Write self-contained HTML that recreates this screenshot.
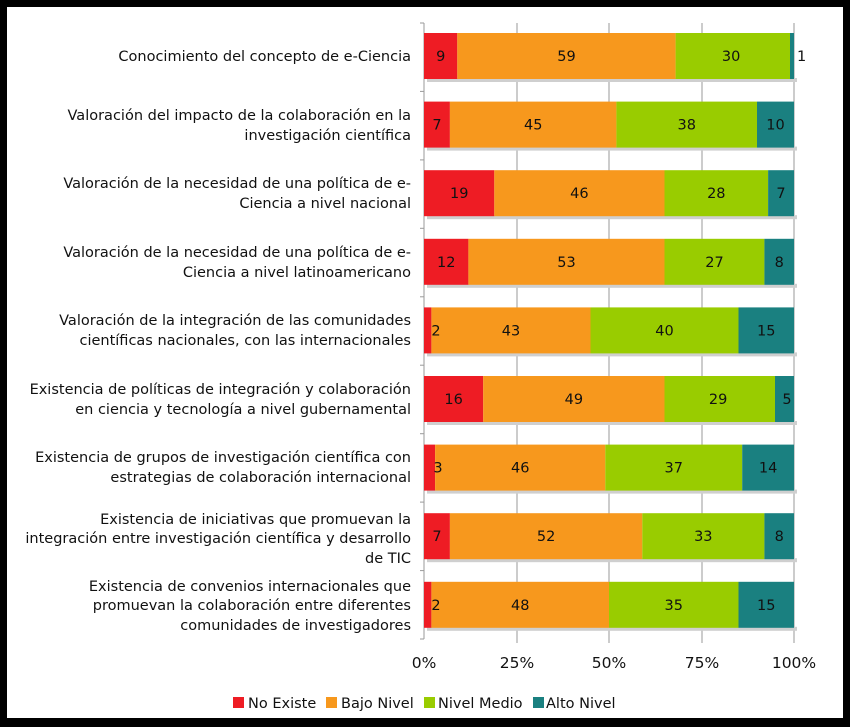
<!DOCTYPE html>
<html><head><meta charset="utf-8"><style>
html,body{margin:0;padding:0;background:#000;}
svg{display:block;font-family:"DejaVu Sans","Liberation Sans",sans-serif;}
</style></head><body>
<svg width="850" height="727" viewBox="0 0 850 727" xmlns="http://www.w3.org/2000/svg">
<rect x="0" y="0" width="850" height="727" fill="#000"/>
<rect x="7" y="7" width="836" height="711" fill="#fff"/>
<g stroke="#9a9a9a" stroke-width="1">
<line x1="517" y1="23" x2="517" y2="639"/><line x1="609" y1="23" x2="609" y2="639"/>
<line x1="702" y1="23" x2="702" y2="639"/><line x1="794" y1="23" x2="794" y2="639"/>
<line x1="424" y1="23" x2="424" y2="639"/>
<line x1="420" y1="23" x2="424" y2="23"/><line x1="420" y1="91.4" x2="424" y2="91.4"/>
<line x1="420" y1="159.9" x2="424" y2="159.9"/><line x1="420" y1="228.3" x2="424" y2="228.3"/>
<line x1="420" y1="296.8" x2="424" y2="296.8"/><line x1="420" y1="365.2" x2="424" y2="365.2"/>
<line x1="420" y1="433.7" x2="424" y2="433.7"/><line x1="420" y1="502.1" x2="424" y2="502.1"/>
<line x1="420" y1="570.6" x2="424" y2="570.6"/><line x1="420" y1="639" x2="424" y2="639"/>
<line x1="517" y1="639" x2="517" y2="643"/><line x1="609" y1="639" x2="609" y2="643"/><line x1="702" y1="639" x2="702" y2="643"/><line x1="794" y1="639" x2="794" y2="643"/>
</g>
<g fill="#cfcfcf">
<rect x="427" y="78" width="370" height="4"/><rect x="427" y="146.6" width="370" height="4"/>
<rect x="427" y="215.2" width="370" height="4"/><rect x="427" y="283.8" width="370" height="4"/>
<rect x="427" y="352.4" width="370" height="4"/><rect x="427" y="421" width="370" height="4"/>
<rect x="427" y="489.6" width="370" height="4"/><rect x="427" y="558.2" width="370" height="4"/>
<rect x="427" y="626.8" width="370" height="4"/>
</g>
<g>
<rect x="424" y="33" width="33.3" height="46" fill="#ee1c24"/><rect x="457.3" y="33" width="218.3" height="46" fill="#f7981d"/><rect x="675.6" y="33" width="114.4" height="46" fill="#99cc00"/><rect x="790" y="33" width="4" height="46" fill="#1a8080"/>
<rect x="424" y="101.6" width="25.9" height="46" fill="#ee1c24"/><rect x="449.9" y="101.6" width="166.5" height="46" fill="#f7981d"/><rect x="616.4" y="101.6" width="140.6" height="46" fill="#99cc00"/><rect x="757" y="101.6" width="37" height="46" fill="#1a8080"/>
<rect x="424" y="170.2" width="70.3" height="46" fill="#ee1c24"/><rect x="494.3" y="170.2" width="170.2" height="46" fill="#f7981d"/><rect x="664.5" y="170.2" width="103.6" height="46" fill="#99cc00"/><rect x="768.1" y="170.2" width="25.9" height="46" fill="#1a8080"/>
<rect x="424" y="238.8" width="44.4" height="46" fill="#ee1c24"/><rect x="468.4" y="238.8" width="196.1" height="46" fill="#f7981d"/><rect x="664.5" y="238.8" width="99.9" height="46" fill="#99cc00"/><rect x="764.4" y="238.8" width="29.6" height="46" fill="#1a8080"/>
<rect x="424" y="307.4" width="7.4" height="46" fill="#ee1c24"/><rect x="431.4" y="307.4" width="159.1" height="46" fill="#f7981d"/><rect x="590.5" y="307.4" width="148" height="46" fill="#99cc00"/><rect x="738.5" y="307.4" width="55.5" height="46" fill="#1a8080"/>
<rect x="424" y="376" width="59.2" height="46" fill="#ee1c24"/><rect x="483.2" y="376" width="181.3" height="46" fill="#f7981d"/><rect x="664.5" y="376" width="110.5" height="46" fill="#99cc00"/><rect x="775" y="376" width="19" height="46" fill="#1a8080"/>
<rect x="424" y="444.6" width="11.1" height="46" fill="#ee1c24"/><rect x="435.1" y="444.6" width="170.2" height="46" fill="#f7981d"/><rect x="605.3" y="444.6" width="136.9" height="46" fill="#99cc00"/><rect x="742.2" y="444.6" width="51.8" height="46" fill="#1a8080"/>
<rect x="424" y="513.2" width="25.9" height="46" fill="#ee1c24"/><rect x="449.9" y="513.2" width="192.4" height="46" fill="#f7981d"/><rect x="642.3" y="513.2" width="122.1" height="46" fill="#99cc00"/><rect x="764.4" y="513.2" width="29.6" height="46" fill="#1a8080"/>
<rect x="424" y="581.8" width="7.4" height="46" fill="#ee1c24"/><rect x="431.4" y="581.8" width="177.6" height="46" fill="#f7981d"/><rect x="609" y="581.8" width="129.5" height="46" fill="#99cc00"/><rect x="738.5" y="581.8" width="55.5" height="46" fill="#1a8080"/>
</g>
<g font-size="14.5" fill="#111" text-anchor="middle">
<text x="440.7" y="61">9</text><text x="566.5" y="61">59</text><text x="731.1" y="61">30</text><text x="797" y="61" text-anchor="start">1</text>
<text x="437" y="129.6">7</text><text x="533.2" y="129.6">45</text><text x="686.7" y="129.6">38</text><text x="775.5" y="129.6">10</text>
<text x="459.2" y="198.2">19</text><text x="579.4" y="198.2">46</text><text x="716.3" y="198.2">28</text><text x="781" y="198.2">7</text>
<text x="446.2" y="266.8">12</text><text x="566.5" y="266.8">53</text><text x="714.5" y="266.8">27</text><text x="779.2" y="266.8">8</text>
<text x="436" y="335.4">2</text><text x="511" y="335.4">43</text><text x="664.5" y="335.4">40</text><text x="766.2" y="335.4">15</text>
<text x="453.6" y="404">16</text><text x="573.9" y="404">49</text><text x="718.1" y="404">29</text><text x="787" y="404">5</text>
<text x="438" y="472.6">3</text><text x="520.2" y="472.6">46</text><text x="673.7" y="472.6">37</text><text x="768.1" y="472.6">14</text>
<text x="437" y="541.2">7</text><text x="546.1" y="541.2">52</text><text x="703.3" y="541.2">33</text><text x="779.2" y="541.2">8</text>
<text x="436" y="609.8">2</text><text x="520.2" y="609.8">48</text><text x="673.7" y="609.8">35</text><text x="766.2" y="609.8">15</text>
</g>
<g font-size="14.5" fill="#111" text-anchor="end">
<text x="411" y="61">Conocimiento del concepto de e-Ciencia</text>
<text x="411" y="120">Valoración del impacto de la colaboración en la</text>
<text x="411" y="140">investigación científica</text>
<text x="411" y="188">Valoración de la necesidad de una política de e-</text>
<text x="411" y="208">Ciencia a nivel nacional</text>
<text x="411" y="257">Valoración de la necesidad de una política de e-</text>
<text x="411" y="277">Ciencia a nivel latinoamericano</text>
<text x="411" y="325">Valoración de la integración de las comunidades</text>
<text x="411" y="345">científicas nacionales, con las internacionales</text>
<text x="411" y="394">Existencia de políticas de integración y colaboración</text>
<text x="411" y="414">en ciencia y tecnología a nivel gubernamental</text>
<text x="411" y="462">Existencia de grupos de investigación científica con</text>
<text x="411" y="482">estrategias de colaboración internacional</text>
<text x="411" y="524">Existencia de iniciativas que promuevan la</text>
<text x="411" y="543">integración entre investigación científica y desarrollo</text>
<text x="411" y="563">de TIC</text>
<text x="411" y="591">Existencia de convenios internacionales que</text>
<text x="411" y="610">promuevan la colaboración entre diferentes</text>
<text x="411" y="630">comunidades de investigadores</text>
</g>
<g font-size="15.5" fill="#111" text-anchor="middle">
<text x="424" y="668">0%</text><text x="517" y="668">25%</text><text x="609" y="668">50%</text><text x="702" y="668">75%</text><text x="794" y="668">100%</text>
</g>
<g font-size="14.5" fill="#111">
<rect x="233" y="697" width="11" height="11" fill="#ee1c24"/><text x="248" y="708">No Existe</text>
<rect x="326" y="697" width="11" height="11" fill="#f7981d"/><text x="341" y="708">Bajo Nivel</text>
<rect x="424" y="697" width="11" height="11" fill="#99cc00"/><text x="438" y="708">Nivel Medio</text>
<rect x="533" y="697" width="11" height="11" fill="#1a8080"/><text x="546" y="708">Alto Nivel</text>
</g>
</svg>
</body></html>
